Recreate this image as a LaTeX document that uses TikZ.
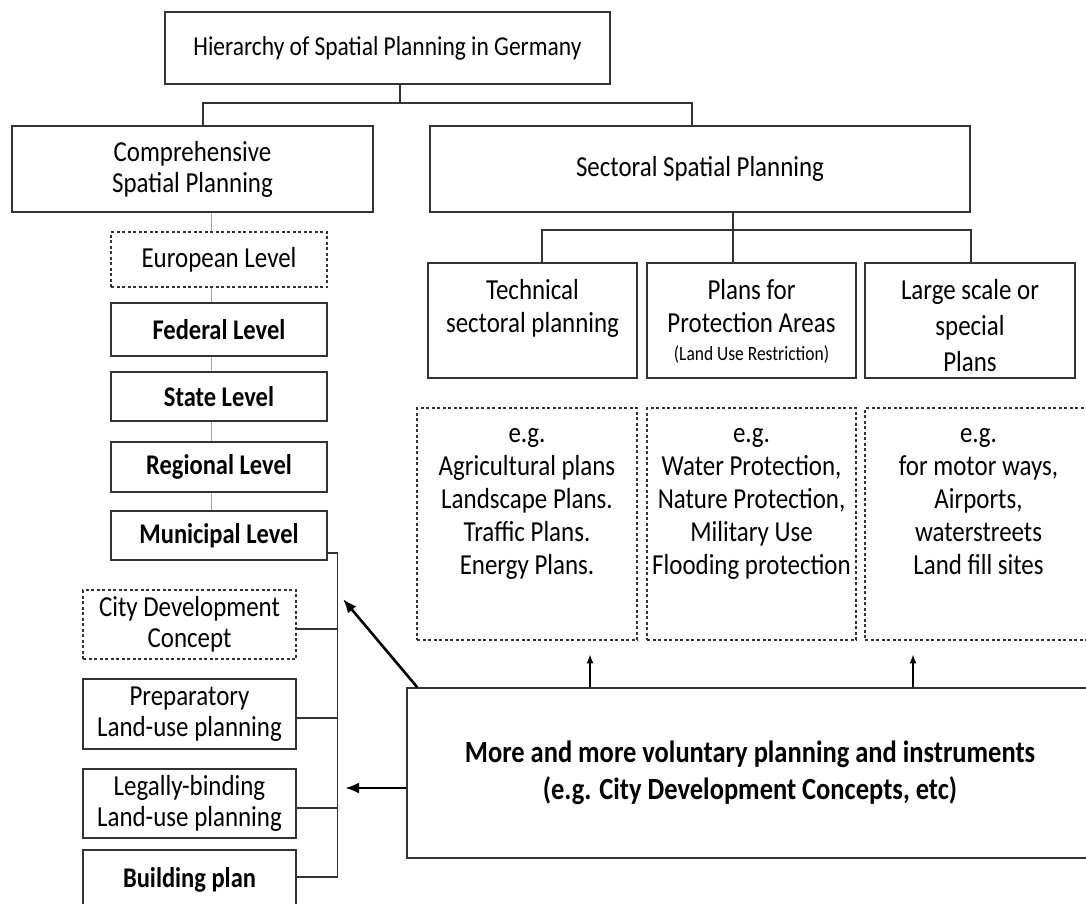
\documentclass[tikz,border=0pt]{standalone}
\usepackage{fontspec}
\setmainfont{Carlito}[FakeStretch=0.86]
\usetikzlibrary{arrows.meta}
\begin{document}
\begin{tikzpicture}[x=1pt,y=-1pt,
  box/.style={draw=black!80, line width=1.5pt, fill=white, inner sep=0pt, align=center, font=\fontsize{29}{31}\selectfont},
  bbox/.style={box, font=\bfseries\fontsize{28.5}{31}\selectfont},
  dbox/.style={box, dash pattern=on 3pt off 2.5pt, line width=1.3pt},
  txt/.style={inner sep=0pt, align=center, font=\fontsize{29}{33}\selectfont},
  conn/.style={draw=black!80, line width=1.4pt},
  arr/.style={draw=black, line width=2.6pt, -{Latex[length=14pt,width=11pt]}},
  uarr/.style={draw=black, line width=2pt, -{Latex[length=9pt,width=7pt]}}]
\useasboundingbox (0,0) rectangle (1086,904);

% top
\node[box, minimum width=445pt, minimum height=72pt, font=\fontsize{27.3}{31}\selectfont] (title) at (387.5,48) {Hierarchy of Spatial Planning in Germany};
\node[box, minimum width=361pt, minimum height=86pt] (comp) at (192.5,169) {Comprehensive\\Spatial Planning};
\node[box, minimum width=540pt, minimum height=86pt] (sect) at (700,169) {Sectoral Spatial Planning};

\coordinate (j0) at (400,103);
\draw[conn] (title.south -| j0) -- (j0);
\draw[conn] ([xshift=10.5pt]comp.north) |- (j0) -| ([xshift=-8pt]sect.north);

% sectoral boxes
\node[box, minimum width=209pt, minimum height=115pt] (tech) at (532.5,320.5) {};
\node[txt, anchor=north] (techt) at ([yshift=-16.5pt]tech.north) {Technical\\sectoral planning};
\node[box, minimum width=209pt, minimum height=115pt] (prot) at (751.5,320.5) {};
\node[txt, anchor=north] (prott) at ([yshift=-16.5pt]prot.north) {Plans for\\Protection Areas\\[-5pt]{\fontsize{20.3}{22}\selectfont (Land Use Restriction)}};
\node[box, minimum width=210pt, minimum height=115pt] (large) at (970,320.5) {};
\node[txt, anchor=north] (larget) at ([yshift=-16.5pt]large.north) {Large scale or\\[3pt]special\\[3pt]Plans};

\coordinate (j1) at (733,230);
\draw[conn] ([xshift=33pt]sect.south) -- ([xshift=-18.5pt]prot.north);
\draw[conn] ([xshift=9.5pt]tech.north) |- (j1) -| ([xshift=1pt]large.north);

% example boxes
\node[dbox, minimum width=220pt, minimum height=232pt] (eg1) at (527,524) {};
\node[txt, anchor=north] (eg1t) at ([yshift=-21pt]eg1.north) {e.g.\\Agricultural plans\\Landscape Plans.\\Traffic Plans.\\Energy Plans.};
\node[dbox, minimum width=209pt, minimum height=232pt] (eg2) at (751.5,524) {};
\node[txt, anchor=north] (eg2t) at ([yshift=-21pt]eg2.north) {e.g.\\Water Protection,\\Nature Protection,\\Military Use\\Flooding protection};
\node[dbox, minimum width=227pt, minimum height=232pt] (eg3) at (978.5,524) {};
\node[txt, anchor=north] (eg3t) at ([yshift=-21pt]eg3.north) {e.g.\\for motor ways,\\Airports,\\waterstreets\\Land fill sites};

% levels
\draw[draw=black!35, line width=0.8pt] ([xshift=18.5pt]comp.south) -- (211,511);
\node[dbox, minimum width=216pt, minimum height=55pt] (euro) at (219,259.5) {European Level};
\node[bbox, minimum width=216pt, minimum height=53pt] (fed) at (219,329.5) {Federal Level};
\node[bbox, minimum width=216pt, minimum height=49pt] (state) at (219,396.5) {State Level};
\node[bbox, minimum width=216pt, minimum height=50pt] (reg) at (219,467) {Regional Level};
\node[bbox, minimum width=216pt, minimum height=49pt] (muni) at (219,535.5) {Municipal Level};

\node[dbox, minimum width=213pt, minimum height=69pt] (city) at (189.5,624.5) {City Development\\Concept};
\node[box, minimum width=213pt, minimum height=70pt] (prep) at (189.5,714) {Preparatory\\Land-use planning};
\node[box, minimum width=213pt, minimum height=69pt] (legal) at (189.5,803.5) {Legally-binding\\Land-use planning};
\node[bbox, minimum width=213pt, minimum height=60pt] (bld) at (189.5,880) {Building plan};

\draw[conn] ([yshift=-17.5pt]muni.east) -- ++(10,0) |- ([yshift=3pt]bld.east);
\draw[conn] ([yshift=-4.5pt]city.east) -- ++(41,0);
\draw[conn] ([yshift=-4pt]prep.east) -- ++(41,0);
\draw[conn] ([yshift=-4.5pt]legal.east) -- ++(41,0);

% big box
\node[box, minimum width=686pt, minimum height=170pt, font=\bfseries\fontsize{30.8}{37}\selectfont] (big) at (750,773) {More and more voluntary planning and instruments\\(e.g. City Development Concepts, etc)};

\coordinate (a1) at (343,599);
\coordinate (a2) at (345,788);
\draw[arr] ([xshift=11pt]big.north west) -- (a1);
\draw[arr] ([yshift=-15pt]big.west) -- (a2);
\draw[uarr] ([xshift=-160pt]big.north) -- ++(0,-33);
\draw[uarr] ([xshift=163pt]big.north) -- ++(0,-33);
\end{tikzpicture}
\end{document}
